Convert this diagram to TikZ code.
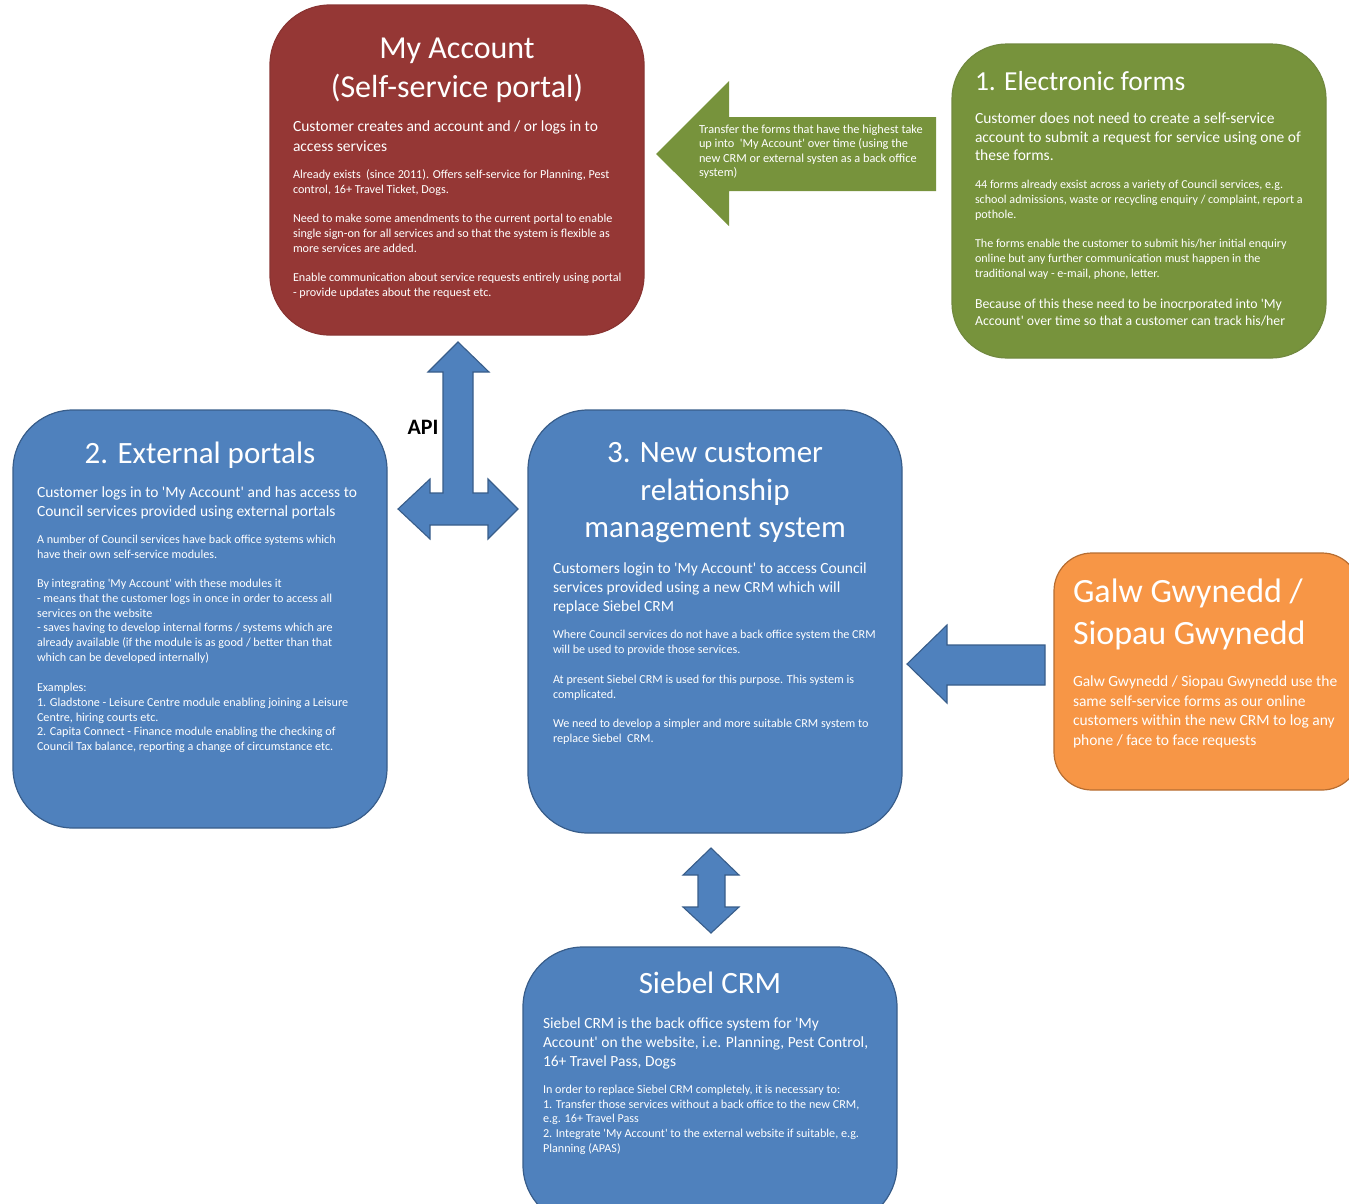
\documentclass[tikz,border=0pt]{standalone}
\usepackage{fontspec}
\setmainfont{Carlito}[Ligatures=TeXOff]
\definecolor{accred}{HTML}{953735}
\definecolor{accredb}{HTML}{8A3432}
\definecolor{accgreen}{HTML}{77933C}
\definecolor{accgreenb}{HTML}{71893F}
\definecolor{accblue}{HTML}{4F81BD}
\definecolor{accblueb}{HTML}{385D8A}
\definecolor{accorange}{HTML}{F79646}
\definecolor{accorangeb}{HTML}{B66D31}
\tikzset{
  box/.style={rectangle, rounded corners=60pt, line width=1.2pt, inner sep=0pt},
  bluebox/.style={box, fill=accblue, draw=accblueb},
  blockarrow/.style={fill=accblue, draw=accblueb, line width=1.1pt, line join=miter},
  txt/.style={text=white, inner sep=0pt, outer sep=0pt, align=left, anchor=base west},
  ttl/.style={txt, align=center, anchor=base},
  sub/.style={txt, font=\fontsize{15.5}{19.5}\selectfont},
  sml/.style={txt, font=\fontsize{12.15}{15}\selectfont},
}
\begin{document}
% note: multi-line nodes are placed by the baseline of their LAST line
\begin{tikzpicture}[x=1pt,y=-1pt]
\useasboundingbox (0,0) rectangle (1349,1203);
\clip (0,0) rectangle (1349,1203);

% ---------- boxes ----------
\node[box, fill=accred, draw=accredb, minimum width=374pt, minimum height=330pt] (acct) at (457,170) {};
\node[box, fill=accgreen, draw=accgreenb, rounded corners=55pt, minimum width=374pt, minimum height=314pt] (forms) at (1139,201) {};
\node[bluebox, minimum width=374pt, minimum height=418pt] (ext) at (200,619) {};
\node[bluebox, minimum width=374pt, minimum height=423pt] (crm) at (715,621.5) {};
\node[box, fill=accorange, draw=accorangeb, rounded corners=38pt, minimum width=306pt, minimum height=237pt] (galw) at (1207,671.5) {};
\node[bluebox, minimum width=374pt, minimum height=278pt] (siebel) at (710,1086) {};

% ---------- block arrows ----------
\path[fill=accgreen] (936,117) -- (729,117) -- (729,81) -- (656,154) -- (729,226) -- (729,191) -- (936,191) -- cycle;
\path[blockarrow] (1045,645) -- (947,645) -- (947,625) -- (907,664) -- (947,703) -- (947,685) -- (1045,685) -- cycle;
\path[blockarrow] (458,342) -- (489,372) -- (473,372) -- (473,493) -- (488,493) -- (488,479) -- (518,509)
   -- (488,539) -- (488,525) -- (430,525) -- (430,539) -- (398,509) -- (430,479) -- (430,493)
   -- (443,493) -- (443,372) -- (428,372) -- cycle;
\path[blockarrow] (711,848) -- (739,875) -- (725,875) -- (725,907) -- (739,907) -- (711,933)
   -- (683,907) -- (698,907) -- (698,875) -- (683,875) -- cycle;

\node[anchor=base, inner sep=0pt, font=\fontsize{22}{26}\selectfont\bfseries] (api) at (423,434) {API};

% ---------- My Account ----------
\node[ttl, font=\fontsize{32}{39}\selectfont] (acctT) at (457,97) {My Account\\(Self-service portal)};
\node[sub] (acctS) at (293,151) {Customer creates and account and / or logs in to\\access services};
\node[sml] (acctP1) at (293,193) {Already exists\ \ (since 2011). Offers self-service for Planning, Pest\\control, 16+ Travel Ticket, Dogs.};
\node[sml] (acctP2) at (293,252) {Need to make some amendments to the current portal to enable\\single sign-on for all services and so that the system is flexible as\\more services are added.};
\node[sml] (acctP3) at (293,296) {Enable communication about service requests entirely using portal\\- provide updates about the request etc.};

% ---------- arrow text ----------
\node[txt, font=\fontsize{12.3}{14.5}\selectfont] (arrT) at (699,176.5) {Transfer the forms that have the highest take\\up into\ \ 'My Account' over time (using the\\new CRM or external systen as a back office\\system)};

% ---------- Electronic forms ----------
\node[txt, font=\fontsize{27.5}{33}\selectfont] (formsT) at (975,90) {1. Electronic forms};
\node[txt, font=\fontsize{15.5}{18.5}\selectfont] (formsS) at (975,160.5) {Customer does not need to create a self-service\\account to submit a request for service using one of\\these forms.};
\node[txt, font=\fontsize{12.1}{15}\selectfont] (formsP1) at (975,218.5) {44 forms already exsist across a variety of Council services, e.g.\\school admissions, waste or recycling enquiry / complaint, report a\\pothole.};
\node[txt, font=\fontsize{12.1}{15}\selectfont] (formsP2) at (975,277.5) {The forms enable the customer to submit his/her initial enquiry\\online but any further communication must happen in the\\traditional way - e-mail, phone, letter.};
\node[txt, font=\fontsize{13.8}{17.4}\selectfont] (formsP3) at (975,325.9) {Because of this these need to be inocrporated into 'My\\Account' over time so that a customer can track his/her};

% ---------- External portals ----------
\node[ttl, font=\fontsize{31}{38}\selectfont] (extT) at (200,463.5) {2. External portals};
\node[sub] (extS) at (37,516.5) {Customer logs in to 'My Account' and has access to\\Council services provided using external portals};
\node[sml] (extP1) at (37,558.5) {A number of Council services have back office systems which\\have their own self-service modules.};
\node[sml, font=\fontsize{12.15}{14.8}\selectfont] (extP2) at (37,661.5) {By integrating 'My Account' with these modules it\\- means that the customer logs in once in order to access all\\services on the website\\- saves having to develop internal forms / systems which are\\already available (if the module is as good / better than that\\which can be developed internally)};
\node[sml, font=\fontsize{12.15}{14.8}\selectfont] (extP3) at (37,750.7) {Examples:\\1. Gladstone - Leisure Centre module enabling joining a Leisure\\Centre, hiring courts etc.\\2. Capita Connect - Finance module enabling the checking of\\Council Tax balance, reporting a change of circumstance etc.};

% ---------- New CRM ----------
\node[ttl, font=\fontsize{31}{37.5}\selectfont] (crmT) at (715,537.5) {3. New customer\\relationship\\management system};
\node[sub, font=\fontsize{15.5}{19.3}\selectfont] (crmS) at (553,611.9) {Customers login to 'My Account' to access Council\\services provided using a new CRM which will\\replace Siebel CRM};
\node[sml] (crmP1) at (553,653.3) {Where Council services do not have a back office system the CRM\\will be used to provide those services.};
\node[sml] (crmP2) at (553,698) {At present Siebel CRM is used for this purpose. This system is\\complicated.};
\node[sml] (crmP3) at (553,742.7) {We need to develop a simpler and more suitable CRM system to\\replace Siebel\ \ CRM.};

% ---------- Galw Gwynedd ----------
\node[txt, font=\fontsize{34}{42.5}\selectfont] (galwT) at (1073,644.5) {Galw Gwynedd /\\Siopau Gwynedd};
\node[sub] (galwS) at (1073,745.2) {Galw Gwynedd / Siopau Gwynedd use the\\same self-service forms as our online\\customers within the new CRM to log any\\phone / face to face requests};

% ---------- Siebel CRM ----------
\node[ttl, font=\fontsize{31}{38}\selectfont] (siebT) at (710,993.3) {Siebel CRM};
\node[sub, font=\fontsize{15.5}{19}\selectfont] (siebS) at (543,1066.3) {Siebel CRM is the back office system for 'My\\Account' on the website, i.e. Planning, Pest Control,\\16+ Travel Pass, Dogs};
\node[sml, font=\fontsize{12.15}{14.7}\selectfont] (siebP) at (543,1152.1) {In order to replace Siebel CRM completely, it is necessary to:\\1. Transfer those services without a back office to the new CRM,\\e.g. 16+ Travel Pass\\2. Integrate 'My Account' to the external website if suitable, e.g.\\Planning (APAS)};
\end{tikzpicture}
\end{document}
